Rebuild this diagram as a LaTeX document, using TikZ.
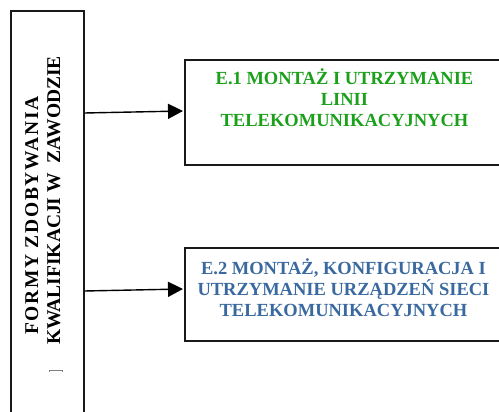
\documentclass[tikz,border=0pt]{standalone}
\usepackage{fontspec}
\setmainfont{Liberation Serif}
\usetikzlibrary{arrows.meta,calc}
\definecolor{egreen}{RGB}{28,160,28}
\definecolor{eblue}{RGB}{58,105,160}
\tikzset{
  x=1pt,y=1pt,
  boxframe/.style={draw=black!90,line width=2pt,inner sep=0pt,anchor=north west},
  sideframe/.style={draw=black!90,line width=1.6pt,inner sep=0pt,anchor=north west},
  boxtext/.style={font=\bfseries\fontsize{18.5}{21}\selectfont,align=center,inner sep=0pt,anchor=base},
  sidetext/.style={font=\bfseries\fontsize{19.5}{22}\selectfont,rotate=90,inner sep=0pt,anchor=base west},
  arr/.style={line width=1.4pt,-{Triangle[length=15pt,width=15pt]}}
}
\begin{document}
\begin{tikzpicture}
\useasboundingbox (0,0) rectangle (499,412);
\clip (0,0) rectangle (499,412);
% left box
\node[sideframe,minimum width=73,minimum height=420] (lb) at (10,402) {};
\node[sidetext] (l1) at (38,77) {\addfontfeature{LetterSpace=8.5}FORMY ZDOBYWANIA};
\node[sidetext] (l2) at (60,67) {KWALIFIKACJI W \ ZAWODZIE};
\draw[gray,line width=0.6pt] (49,40) -- (49,42) -- (62,42) -- (62,40);
% right boxes
\node[boxframe,minimum width=321,minimum height=105] (b1) at (184,353) {};
\node[boxtext,text=egreen] (t1) at (344.5,285) {E.1 MONTAŻ I UTRZYMANIE\\LINII\\TELEKOMUNIKACYJNYCH};
\node[boxframe,minimum width=319,minimum height=93] (b2) at (184,165) {};
\node[boxtext,text=eblue] (t2) at (343.5,95) {E.2 MONTAŻ, KONFIGURACJA I\\UTRZYMANIE URZĄDZEŃ SIECI\\TELEKOMUNIKACYJNYCH};
% arrows
\coordinate (s1) at (lb.north east |- 0,299);
\coordinate (s2) at (lb.north east |- 0,121);
\draw[arr] (s1) -- ($(b1.west)+(-1,1.5)$);
\draw[arr] (s2) -- ($(b2.west)+(-1,5.5)$);
\end{tikzpicture}
\end{document}
